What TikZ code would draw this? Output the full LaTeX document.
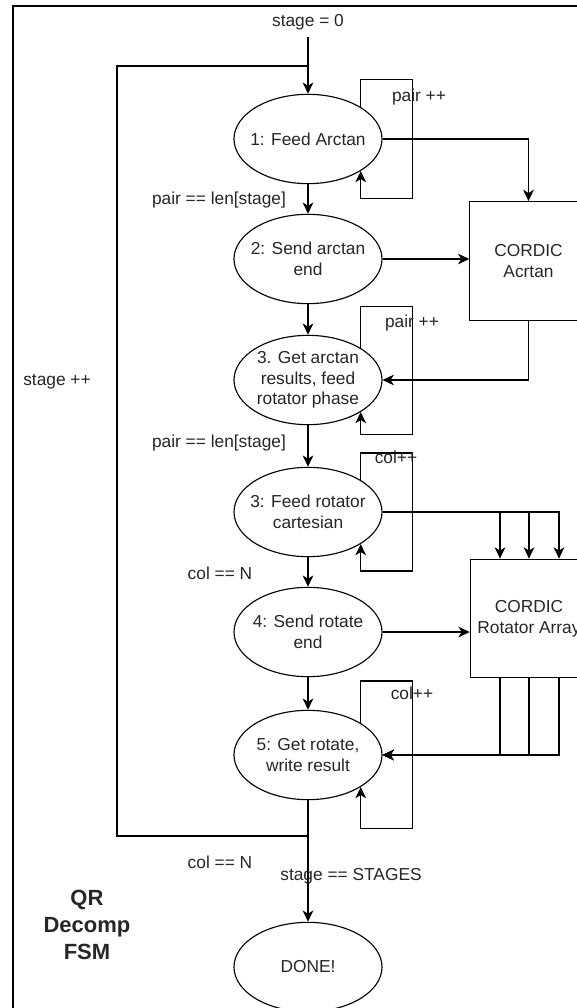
\documentclass[tikz,border=0pt]{standalone}
\usepackage{fontspec}
\setmainfont{Liberation Sans}
\usetikzlibrary{shapes.geometric,arrows.meta}
\begin{document}
\begin{tikzpicture}[
        x=0.75pt, y=-0.75pt,
        line width=0.85pt,
        every node/.style={font=\fontsize{13}{15.5}\selectfont, text=black!85, align=center},
        state/.style={draw=black, ellipse, minimum width=111pt, minimum height=67pt, inner xsep=-4pt, inner ysep=0pt},
        unit/.style={draw=black, rectangle, minimum width=88pt, minimum height=89pt},
        title/.style={font=\fontsize{16.5}{20}\selectfont\bfseries},
        arr/.style={-{Stealth[length=8.5pt, width=8pt, inset=2.5pt]}},
    ]
    \useasboundingbox (0,0) rectangle (577,1008);
    \clip (0,0) rectangle (577,1008);
    \draw (13,1030) -- (13,6) -- (620,6);

    \node[state](s1) at (308,139) {1: Feed Arctan};
    \node[state](s2) at (308,259) {2: Send arctan\\end};
    \node[state](s3) at (308,380) {3. Get arctan\\results, feed\\rotator phase};
    \node[state](s4) at (308,512) {3: Feed rotator\\cartesian};
    \node[state](s5) at (308,632) {4: Send rotate\\end};
    \node[state](s6) at (308,755) {5: Get rotate,\\write result};
    \node[state](done) at (308,967) {DONE!};
    \node[unit](atan) at (528.5,261) {CORDIC\\Acrtan};
    \node[unit](rot) at (529,618.5) {CORDIC\\Rotator Array};

    \node(initlbl) at (308,22) {stage = 0};
    \coordinate (init) at (308,37);
    \coordinate (back) at (308,836);

    \draw[arr] (init) -- (s1.north);
    \draw[arr] (s1) -- (s2);
    \draw[arr] (s2) -- (s3);
    \draw[arr] (s3) -- (s4);
    \draw[arr] (s4) -- (s5);
    \draw[arr] (s5) -- (s6);
    \draw[arr] (s6) -- (done);
    \draw (back) -- (117,836) -- (117,66) -- (308,66);

    \foreach \s/\u/\d in {s1/27.5/28.5, s3/41.5/23.5, s4/27/28, s6/42/42.5}
        \draw[arr] (\s.north east) -- ++(0,-\u) -- ++(52,0) -- ++(0,63+\u+\d) -- ++(-52,0) -- (\s.south east);

    \draw[arr] (s1.east) -| (atan.north);
    \draw[arr] (s2.east) -- (s2.east -| atan.west);
    \draw[arr] (atan.south) |- (s3.east);
    \foreach \dx in {-21.75pt,0pt,22.5pt}
        \draw[arr] (s4.east) -| ([xshift=\dx]rot.north);
    \draw[arr] (s5.east) -- (s5.east -| rot.west);
    \foreach \dx in {-21.75pt,0pt,22.5pt}
        \draw[arr] ([xshift=\dx]rot.south) |- (s6.east);

    \node(p1) at (419,97) {pair ++};
    \node(p2) at (412,323) {pair ++};
    \node(c1) at (396,457) {col++};
    \node(c2) at (412,693) {col++};
    \node(l1) at (219,200) {pair == len[stage]};
    \node(l2) at (219,443) {pair == len[stage]};
    \node(l3) at (220,573) {col == N};
    \node(l4) at (220,862) {col == N};
    \node(l5) at (351,876) {stage == STAGES};
    \node(l6) at (57,382) {stage ++};
    \node[title](fsm) at (87,925) {QR\\Decomp\\FSM};
\end{tikzpicture}
\end{document}
